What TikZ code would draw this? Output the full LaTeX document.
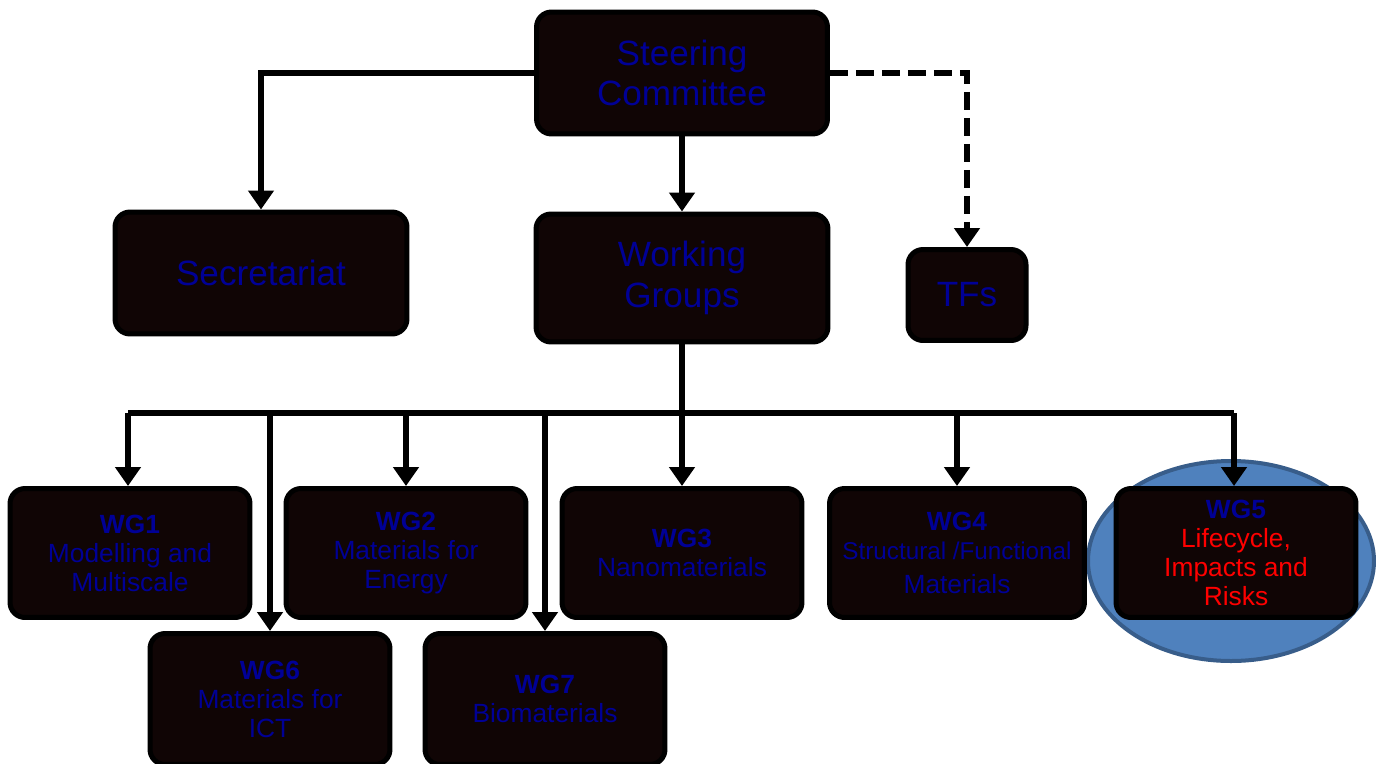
\documentclass[tikz,border=0pt]{standalone}
\usepackage{fontspec}
\setmainfont{Liberation Sans}
\usepackage{tikz}
\usetikzlibrary{arrows.meta,positioning}
\definecolor{boxfill}{RGB}{16,5,5}
\definecolor{wgblue}{RGB}{0,0,150}
\definecolor{hlfill}{RGB}{79,129,189}
\definecolor{hlline}{RGB}{56,93,138}

\begin{document}
\begin{tikzpicture}[x=0.02cm, y=-0.02cm,
  box/.style = {draw = black, fill = boxfill, line width = 0.1cm, rounded corners = 0.3cm,
                shape = rectangle, align = center, inner sep = 0pt, text = wgblue},
  big/.style = {font = \fontsize{20}{23}\selectfont},
  small/.style = {font = \fontsize{15}{16.5}\selectfont},
  link/.style = {line width = 0.13cm, -{Triangle[width = 0.5cm, length = 0.38cm]}},
  tflink/.style = {link, dash pattern = on 0.36cm off 0.16cm}]
\useasboundingbox (0,0) rectangle (1376,764);

% highlight round WG5
\draw[fill = hlfill, draw = hlline, line width = 0.08cm] (1231,561) ellipse [x radius = 143, y radius = 100];

\node[box, big, minimum width = 5.82cm, minimum height = 2.44cm] (sc) at (682,73) {Steering\\Committee};
\node[box, big, minimum width = 5.84cm, minimum height = 2.44cm] (sec) at (261,273) {\raisebox{-0.15cm}{Secretariat}};
\node[box, big, minimum width = 5.84cm, minimum height = 2.56cm] (wg) at (682,278) {Working\\Groups};
\node[box, big, minimum width = 2.36cm, minimum height = 1.82cm] (tf) at (967,295) {TFs};

\node[box, small, minimum width = 4.8cm, minimum height = 2.58cm] (wg1) at (130,553) {\textbf{WG1}\\Modelling and\\Multiscale};
\node[box, small, minimum width = 4.8cm, minimum height = 2.58cm] (wg2) at (406,553) {\textbf{WG2}\\Materials for\\Energy};
\node[box, small, minimum width = 4.8cm, minimum height = 2.58cm] (wg3) at (682,553) {\textbf{WG3}\\Nanomaterials};
\node[box, small, minimum width = 5.1cm, minimum height = 2.58cm] (wg4) at (957,553) {\textbf{WG4}\\{\fontsize{13.8}{16}\selectfont Structural /Functional}\\[0.1cm]Materials};
\node[box, small, minimum width = 4.8cm, minimum height = 2.58cm] (wg5) at (1236,553) {\textbf{WG5}\\\textcolor{red}{Lifecycle,}\\\textcolor{red}{Impacts and}\\\textcolor{red}{Risks}};
\node[box, small, minimum width = 4.8cm, minimum height = 2.62cm] (wg6) at (270,699) {\textbf{WG6}\\Materials for\\ICT};
\node[box, small, minimum width = 4.8cm, minimum height = 2.62cm] (wg7) at (545,699) {\textbf{WG7}\\Biomaterials};

\coordinate (bus) at (682,413);
\coordinate (busL) at (128,413);
\coordinate (busR) at (1234,413);

\draw[link] (sc.west) -| (sec.north);
\draw[link] (sc) -- (wg);
\draw[tflink] (sc.east) -| (tf.north);

\draw[line width = 0.13cm] (wg.south) -- (bus);
\draw[line width = 0.13cm] (busL) -- (busR);
\draw[link] (busL) -- (wg1.north -| busL);
\draw[link] (wg2.north |- bus) -- (wg2.north);
\draw[link] (bus) -- (wg3.north);
\draw[link] (wg4.north |- bus) -- (wg4.north);
\draw[link] (busR) -- (wg5.north -| busR);
\draw[link] (wg6.north |- bus) -- (wg6.north);
\draw[link] (wg7.north |- bus) -- (wg7.north);
\end{tikzpicture}
\end{document}
